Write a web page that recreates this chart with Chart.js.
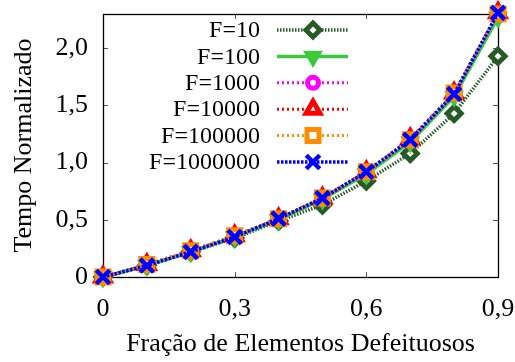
<!DOCTYPE html>
<html>
<head>
<meta charset="utf-8">
<script src="https://cdn.jsdelivr.net/npm/chart.js@4/dist/chart.umd.min.js"></script>
<style>
  html, body { margin: 0; padding: 0; background: #fff; }
  canvas { display: block; }
</style>
</head>
<body>
<canvas id="c" width="515" height="362"></canvas>
<script>
// Fraction of faulty elements (x) and normalized time per F value
const fracoes = [0, 0.1, 0.2, 0.3, 0.4, 0.5, 0.6, 0.7, 0.8, 0.9];
const serieF10      = [0, 0.10, 0.22, 0.34, 0.49, 0.63, 0.84, 1.08, 1.43, 1.93];
const serieF100     = [0, 0.10, 0.22, 0.35, 0.50, 0.68, 0.90, 1.18, 1.58, 2.27];
const serieF1000    = [0, 0.11, 0.23, 0.36, 0.51, 0.69, 0.92, 1.20, 1.61, 2.30];
const serieF10000   = [0, 0.11, 0.23, 0.36, 0.51, 0.69, 0.92, 1.21, 1.61, 2.31];
const serieF100000  = [0, 0.11, 0.23, 0.36, 0.51, 0.69, 0.92, 1.20, 1.61, 2.30];
const serieF1000000 = [0, 0.10, 0.22, 0.35, 0.51, 0.69, 0.92, 1.20, 1.60, 2.31];
const rotulosSeries = ['F=10', 'F=100', 'F=1000', 'F=10000', 'F=100000', 'F=1000000'];
const ticksX = [0, 0.3, 0.6, 0.9];
const ticksY = [0, 0.5, 1.0, 1.5, 2.0];

const FONTE = "'Liberation Serif', 'Times New Roman', serif";

function pontos(vals) {
  return vals.map((v, i) => ({ x: fracoes[i], y: v }));
}
function formatoVirgula(v) {
  if (Math.abs(v) < 1e-9) return '0';
  return v.toFixed(1).replace('.', ',');
}

const estilos = [
  { cor: '#285a28', dash: [1.5, 1.5], largura: 3.5, ponto: 'rectRot',  raio: 7,   borda: 5,   fundo: '#ffffff', rot: 0 },
  { cor: '#3cc83c', dash: [],         largura: 3.5, ponto: 'triangle', raio: 10,  borda: 1.5, fundo: '#3cc83c', rot: 180 },
  { cor: '#ff00ff', dash: [2, 3],     largura: 3,   ponto: 'circle',   raio: 5.5, borda: 5,   fundo: '#ffffff', rot: 0 },
  { cor: '#ff0000', dash: [2, 3],     largura: 3,   ponto: 'triangle', raio: 8,   borda: 5,   fundo: '#ffffff', rot: 0 },
  { cor: '#ff8c00', dash: [2, 3],     largura: 3,   ponto: 'rect',     raio: 8.5, borda: 5,   fundo: '#ffffff', rot: 0 },
  { cor: '#0000ff', dash: [2.5, 1.5], largura: 3.5, ponto: 'crossRot', raio: 9.5, borda: 4.5, fundo: '#0000ff', rot: 0 }
];
const valores = [serieF10, serieF100, serieF1000, serieF10000, serieF100000, serieF1000000];

const datasets = valores.map((vals, i) => {
  const e = estilos[i];
  return {
    label: rotulosSeries[i],
    data: pontos(vals),
    borderColor: e.cor,
    backgroundColor: e.fundo,
    borderWidth: e.largura,
    borderDash: e.dash,
    tension: 0,
    pointStyle: e.ponto,
    pointRadius: e.raio,
    pointRotation: e.rot,
    pointBorderWidth: e.borda,
    pointBorderColor: e.cor,
    pointBackgroundColor: e.fundo,
    clip: false,
    order: valores.length - i
  };
});

// Frame with inward ticks on all four sides
const moldura = {
  id: 'moldura',
  beforeDatasetsDraw(chart) {
    const { ctx, chartArea: a, scales } = chart;
    ctx.save();
    ctx.strokeStyle = '#555';
    ctx.lineWidth = 1;
    const L = 5;
    ctx.beginPath();
    ticksY.forEach(v => {
      const y = Math.round(scales.y.getPixelForValue(v)) + 0.5;
      ctx.moveTo(a.left, y); ctx.lineTo(a.left + L, y);
      ctx.moveTo(a.right, y); ctx.lineTo(a.right - L, y);
    });
    ticksX.forEach(v => {
      const x = Math.round(scales.x.getPixelForValue(v)) + 0.5;
      ctx.moveTo(x, a.bottom); ctx.lineTo(x, a.bottom - L);
      ctx.moveTo(x, a.top); ctx.lineTo(x, a.top + L);
    });
    ctx.stroke();
    ctx.strokeStyle = '#000';
    ctx.lineWidth = 1.3;
    ctx.strokeRect(Math.round(a.left) + 0.5, Math.round(a.top) + 0.5,
                   Math.round(a.right - a.left), Math.round(a.bottom - a.top));
    ctx.restore();
  }
};

// Legend: right-aligned label, then line sample with marker
const legenda = {
  id: 'legenda',
  afterDraw(chart) {
    const { ctx } = chart;
    const textoX = 260, linhaX0 = 277, linhaX1 = 348, marcaX = 313;
    const y0 = 30, passo = 26.4;
    ctx.save();
    chart.data.datasets.forEach((ds, i) => {
      const y = y0 + i * passo;
      ctx.fillStyle = '#000';
      ctx.font = '24px ' + FONTE;
      ctx.textAlign = 'right';
      ctx.textBaseline = 'middle';
      ctx.fillText(ds.label, textoX, y + 1);
      ctx.strokeStyle = ds.borderColor;
      ctx.lineWidth = ds.borderWidth;
      ctx.setLineDash(ds.borderDash);
      ctx.beginPath();
      ctx.moveTo(linhaX0, y); ctx.lineTo(linhaX1, y);
      ctx.stroke();
      ctx.setLineDash([]);
      ctx.strokeStyle = ds.pointBorderColor;
      ctx.fillStyle = ds.pointBackgroundColor;
      ctx.lineWidth = ds.pointBorderWidth;
      Chart.helpers.drawPoint(ctx, {
        pointStyle: ds.pointStyle,
        radius: ds.pointRadius,
        rotation: ds.pointRotation,
        borderWidth: ds.pointBorderWidth
      }, marcaX, y);
    });
    ctx.restore();
  }
};

new Chart(document.getElementById('c'), {
  type: 'line',
  data: { datasets },
  plugins: [moldura, legenda],
  options: {
    responsive: false,
    animation: false,
    events: [],
    layout: { padding: { top: 13, right: 17, left: 0, bottom: 0 } },
    plugins: { legend: { display: false }, tooltip: { enabled: false } },
    scales: {
      x: {
        type: 'linear',
        min: 0, max: 0.9,
        grid: { display: false, drawTicks: false },
        border: { display: false },
        afterBuildTicks(s) { s.ticks = ticksX.map(v => ({ value: v })); },
        afterFit(s) { s.height = 85; s.paddingLeft = 0; s.paddingRight = 0; },
        ticks: {
          autoSkip: false, maxRotation: 0, padding: 17, color: '#000',
          font: { family: FONTE, size: 26, lineHeight: 1.2 },
          callback: v => formatoVirgula(v)
        },
        title: {
          display: true, text: 'Fração de Elementos Defeituosos', color: '#000',
          font: { family: FONTE, size: 26, lineHeight: 1.2 },
          padding: { top: 0, bottom: 2 }
        }
      },
      y: {
        type: 'linear',
        min: 0, max: 2.3,
        grid: { display: false, drawTicks: false },
        border: { display: false },
        afterBuildTicks(s) { s.ticks = ticksY.map(v => ({ value: v })); },
        afterFit(s) { s.width = 103; s.paddingTop = 0; s.paddingBottom = 0; },
        ticks: {
          padding: 15, color: '#000',
          font: { family: FONTE, size: 26, lineHeight: 1.2 },
          callback: v => formatoVirgula(v)
        },
        title: {
          display: true, text: 'Tempo Normalizado', color: '#000',
          font: { family: FONTE, size: 26, lineHeight: 1.2 },
          padding: { top: 9, bottom: 0 }
        }
      }
    }
  }
});
</script>
</body>
</html>
